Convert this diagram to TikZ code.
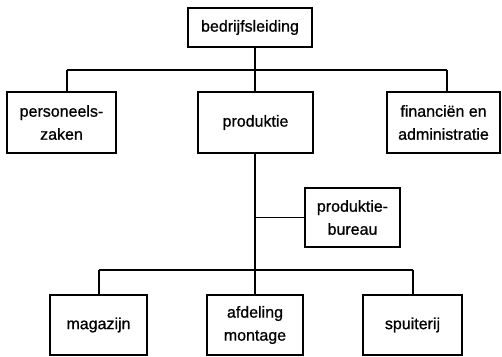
\documentclass[tikz,border=0pt]{standalone}
\usepackage{fontspec}
\setmainfont{Liberation Sans}
\newfontfamily\boxfont[FakeBold=0.8]{Liberation Sans}
\begin{document}
\begin{tikzpicture}[x=1pt,y=-1pt,
  unit/.style={draw,line width=1.6pt,inner sep=0pt,align=center,
    font=\boxfont\fontsize{16}{23}\selectfont},
  link/.style={line width=1.6pt}]
\useasboundingbox (0,0) rectangle (502,356);
% boxes
\node[unit,minimum width=124pt,minimum height=39pt] (top) at (250,27.5) {bedrijfsleiding};
\node[unit,minimum width=109pt,minimum height=61pt] (pers) at (61.5,122.5) {personeels-\\zaken};
\node[unit,minimum width=115pt,minimum height=61pt] (prod) at (255.5,122.5) {produktie};
\node[unit,minimum width=113pt,minimum height=61pt] (fin) at (443.5,122.5) {financiën en\\administratie};
\node[unit,minimum width=95pt,minimum height=59pt] (bur) at (352.5,217.5) {produktie-\\bureau};
\node[unit,minimum width=97pt,minimum height=60pt] (mag) at (98.5,325) {magazijn};
\node[unit,minimum width=96pt,minimum height=60pt] (afd) at (255,325) {afdeling\\montage};
\node[unit,minimum width=99pt,minimum height=60pt] (spu) at (412.5,325) {spuiterij};
% bus junctions
\coordinate (busL) at (67,70);
\coordinate (busR) at (447,70);
\coordinate (lowL) at (99,270);
\coordinate (lowR) at (413,270);
\coordinate (mid) at (255,270);
% upper level
\draw[link] (top.south -| mid) -- (prod.north -| mid);
\draw[link] (busL) -- (busR);
\draw[link] (busL) -- (busL |- pers.north);
\draw[link] (busR) -- (busR |- fin.north);
% lower level
\draw[link] (prod.south -| mid) -- (mid);
\draw[link] (bur.west -| mid) -- (bur.west);
\draw[link] (lowL) -- (lowR);
\draw[link] (lowL) -- (lowL |- mag.north);
\draw[link] (mid) -- (afd.north -| mid);
\draw[link] (lowR) -- (lowR |- spu.north);
\end{tikzpicture}
\end{document}
